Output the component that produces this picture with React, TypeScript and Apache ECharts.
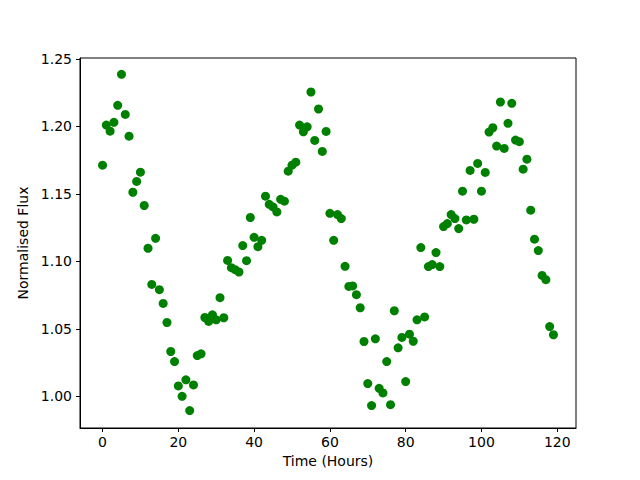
import React, { useEffect, useRef } from "react";
import * as echarts from "echarts";

const hours: number[] = Array.from({ length: 120 }, (_, i) => i);
const flux: number[] = [
  1.1713, 1.2010, 1.1965, 1.2030, 1.2156, 1.2386, 1.2089, 1.1928, 1.1512, 1.1592,
  1.1661, 1.1414, 1.1097, 1.0829, 1.1171, 1.0790, 1.0688, 1.0547, 1.0332, 1.0257,
  1.0077, 1.0000, 1.0122, 0.9894, 1.0084, 1.0302, 1.0315, 1.0584, 1.0555, 1.0604,
  1.0567, 1.0731, 1.0582, 1.1007, 1.0953, 1.0938, 1.0921, 1.1117, 1.1005, 1.1325,
  1.1178, 1.1109, 1.1156, 1.1483, 1.1423, 1.1403, 1.1366, 1.1460, 1.1446, 1.1668,
  1.1713, 1.1735, 1.2010, 1.1960, 1.1997, 1.2255, 1.1896, 1.2129, 1.1815, 1.1963,
  1.1356, 1.1156, 1.1347, 1.1317, 1.0963, 1.0814, 1.0818, 1.0753, 1.0656, 1.0406,
  1.0094, 0.9931, 1.0426, 1.0059, 1.0025, 1.0257, 0.9938, 1.0634, 1.0359, 1.0436,
  1.0109, 1.0460, 1.0408, 1.0567, 1.1102, 1.0588, 1.0961, 1.0976, 1.1065, 1.0961,
  1.1258, 1.1280, 1.1347, 1.1317, 1.1243, 1.1520, 1.1307, 1.1674, 1.1312, 1.1726,
  1.1520, 1.1659, 1.1958, 1.1990, 1.1854, 1.2181, 1.1837, 1.2023, 1.2171, 1.1899,
  1.1887, 1.1683, 1.1757, 1.1379, 1.1164, 1.1080, 1.0896, 1.0864, 1.0517, 1.0456,
];
const xTicks: number[] = [0, 20, 40, 60, 80, 100, 120];
const yTicks: number[] = [1.0, 1.05, 1.1, 1.15, 1.2, 1.25];

const FONT = "DejaVu Sans";

export default function App() {
  const ref = useRef<HTMLDivElement>(null);
  useEffect(() => {
    if (!ref.current) return;
    const chart = echarts.init(ref.current, null, { renderer: "svg" });
    const data = hours.map((h, i) => [h, flux[i]]);
    chart.setOption({
      animation: false,
      backgroundColor: "#ffffff",
      grid: {
        left: 80,
        right: 64,
        top: 58,
        bottom: 52,
        show: true,
        borderColor: "#000000",
        borderWidth: 1,
        containLabel: false,
      },
      xAxis: {
        type: "value",
        min: -5.95,
        max: 124.95,
        name: "Time (Hours)",
        nameLocation: "middle",
        nameGap: 25,
        nameTextStyle: { fontFamily: FONT, fontSize: 14, color: "#000" },
        splitLine: { show: false },
        axisLine: { show: true, onZero: false, lineStyle: { color: "#000", width: 1 } },
        axisTick: {
          show: true,
          length: 4,
          inside: false,
          customValues: xTicks,
          lineStyle: { color: "#000" },
        },
        axisLabel: {
          customValues: xTicks,
          margin: 7,
          fontFamily: FONT,
          fontSize: 14,
          color: "#000",
          showMinLabel: true,
          showMaxLabel: true,
        },
      },
      yAxis: {
        type: "value",
        min: 0.9765,
        max: 1.2507,
        name: "Normalised Flux",
        nameLocation: "middle",
        nameGap: 47,
        nameTextStyle: { fontFamily: FONT, fontSize: 14, color: "#000" },
        splitLine: { show: false },
        axisLine: { show: true, onZero: false, lineStyle: { color: "#000", width: 1 } },
        axisTick: {
          show: true,
          length: 4,
          inside: false,
          customValues: yTicks,
          lineStyle: { color: "#000" },
        },
        axisLabel: {
          customValues: yTicks,
          margin: 8,
          fontFamily: FONT,
          fontSize: 14,
          color: "#000",
          formatter: (v: number) => v.toFixed(2),
        },
      },
      series: [
        {
          type: "scatter",
          data,
          symbol: "circle",
          symbolSize: 9,
          itemStyle: { color: "#008000", opacity: 1 },
        },
      ],
    });
    return () => chart.dispose();
  }, []);
  return (
    <div
      ref={ref}
      style={{ position: "fixed", left: 0, top: 0, width: 640, height: 480, background: "#fff" }}
    />
  );
}
